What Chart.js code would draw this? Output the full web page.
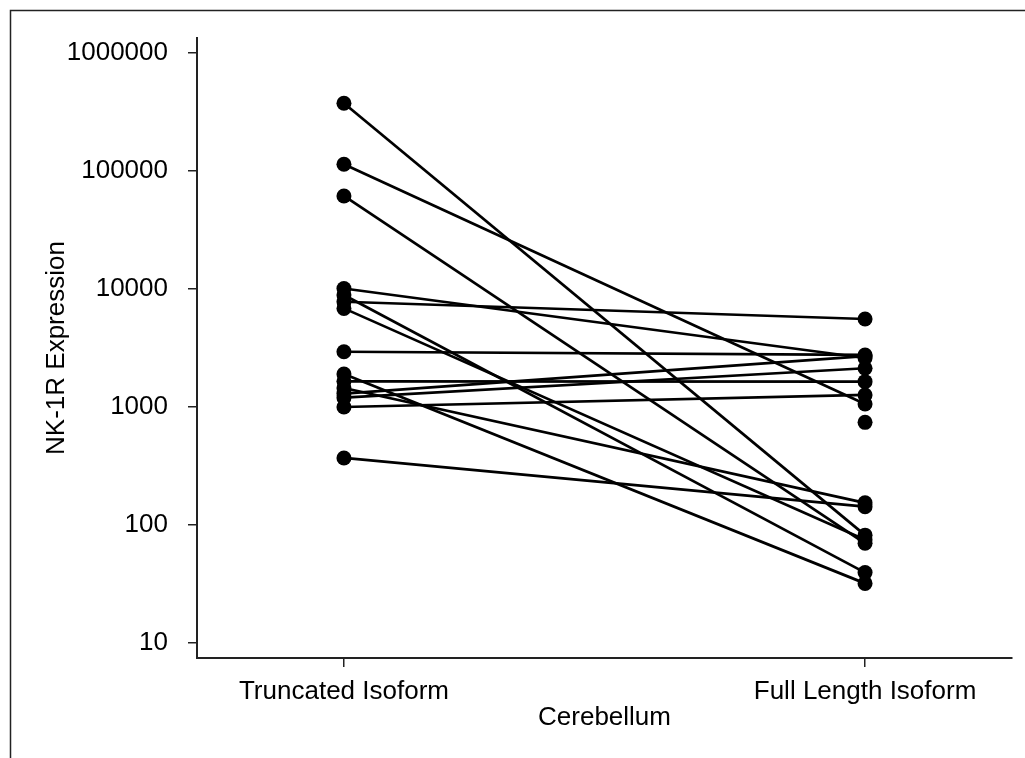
<!DOCTYPE html>
<html>
<head>
<meta charset="utf-8">
<title>NK-1R Expression - Cerebellum</title>
<script src="https://cdn.jsdelivr.net/npm/chart.js@4/dist/chart.umd.min.js"></script>
<style>
  html, body { margin: 0; padding: 0; background: #fff; }
  #wrap { width: 1025px; height: 758px; }
</style>
</head>
<body>
<div id="wrap"><canvas id="chart" width="1025" height="758"></canvas></div>
<script>
// categories on the x axis
const categories = ["Truncated Isoform", "Full Length Isoform"];

// paired values, one entry per sample (null = no value measured)
const truncated  = [375000, 114000, 61400, 10100, 8900, 7800, 6850, 2940, 1900, 1650, 1450, 1300, 1200, 1000, 370, null];
const fullLength = [82, 1060, 70, 2600, 39.5, 5570, 75, 2760, 32, 1640, 154, 2700, 2130, 1265, 143, 741];

// y tick labels (log decades)
const yTicks = [10, 100, 1000, 10000, 100000, 1000000];

const FONT = "'Liberation Sans', Arial, Helvetica, sans-serif";

// one line per sample joining its two isoform values
const datasets = truncated.map((t, i) => ({
    label: "Sample " + (i + 1),
    data: [{ x: 0, y: t }, { x: 1, y: fullLength[i] }],
    borderColor: "#000",
    backgroundColor: "#000",
    borderWidth: 2.7,
    pointRadius: 7.5,
    pointHoverRadius: 7.5,
    pointBorderWidth: 0,
    spanGaps: false,
    tension: 0
}));

// outer frame of the figure
const framePlugin = {
    id: "frame",
    beforeDraw(chart) {
        const ctx = chart.ctx;
        ctx.save();
        ctx.fillStyle = "#fff";
        ctx.fillRect(0, 0, chart.width, chart.height);
        ctx.strokeStyle = "#222";
        ctx.lineWidth = 1.5;
        ctx.strokeRect(10.5, 10.5, chart.width + 20, chart.height + 20);
        ctx.restore();
    }
};

new Chart(document.getElementById("chart"), {
    type: "line",
    data: { datasets: datasets },
    options: {
        responsive: false,
        animation: false,
        layout: { padding: { top: 38, right: 13, bottom: 0, left: 0 } },
        plugins: {
            legend: { display: false },
            tooltip: { enabled: false }
        },
        scales: {
            x: {
                type: "linear",
                min: -0.282,
                max: 1.282,
                afterFit(scale) { scale.height = 100; },
                afterBuildTicks(scale) {
                    scale.ticks = categories.map((c, i) => ({ value: i }));
                },
                ticks: {
                    color: "#000",
                    font: { family: FONT, size: 26 },
                    padding: 9,
                    maxRotation: 0,
                    autoSkip: false,
                    callback: (v) => categories[v]
                },
                grid: {
                    display: true,
                    drawOnChartArea: false,
                    drawTicks: true,
                    tickLength: 9,
                    color: "#222",
                    lineWidth: 1.5
                },
                border: { display: true, color: "#222", width: 2 },
                title: {
                    display: true,
                    text: "Cerebellum",
                    color: "#000",
                    font: { family: FONT, size: 26 },
                    padding: { top: 0, bottom: 25 }
                }
            },
            y: {
                type: "logarithmic",
                min: 7.46,
                max: 1340000,
                afterFit(scale) { scale.width = 197; },
                afterBuildTicks(scale) {
                    scale.ticks = yTicks.map(v => ({ value: v }));
                },
                ticks: {
                    color: "#000",
                    font: { family: FONT, size: 26 },
                    padding: 20,
                    autoSkip: false,
                    callback: (v) => String(v)
                },
                grid: {
                    display: true,
                    drawOnChartArea: false,
                    drawTicks: true,
                    tickLength: 9,
                    color: "#222",
                    lineWidth: 1.5
                },
                border: { display: true, color: "#222", width: 2 },
                title: {
                    display: true,
                    text: "NK-1R Expression",
                    color: "#000",
                    font: { family: FONT, size: 26 },
                    padding: { top: 41, bottom: 0 }
                }
            }
        }
    },
    plugins: [framePlugin]
});
</script>
</body>
</html>
